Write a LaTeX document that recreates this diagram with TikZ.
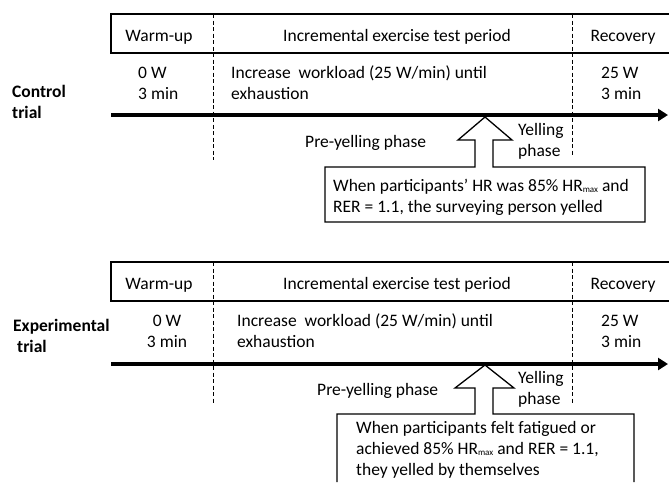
\documentclass[tikz,border=0pt]{standalone}
\usepackage{fontspec}
\setmainfont{Carlito}
\usetikzlibrary{arrows.meta,positioning,calc}

\newcommand{\hrmax}{HR\raisebox{-1pt}{\fontsize{9}{9}\selectfont max}}

\begin{document}
\begin{tikzpicture}[x=1pt,y=-1pt]

\tikzstyle{lbl} = [inner sep=0pt, font=\fontsize{17.5}{21}\selectfont, align=left, anchor=base west]
\tikzstyle{head} = [inner sep=0pt, font=\fontsize{17.5}{21}\selectfont, anchor=base]
\tikzstyle{trial} = [lbl, font=\fontsize{17.5}{21}\selectfont\bfseries]
\tikzstyle{frame} = [line width=1.3pt, line join=miter]
\tikzstyle{sep} = [line width=1pt, dash pattern=on 4pt off 2.5pt]
\tikzstyle{timeline} = [line width=3.5pt, -{Triangle[length=10pt,width=12pt]}]

\useasboundingbox (0,0) rectangle (669,482);

%% -------------------
%% -- CONTROL TRIAL --
%% -------------------

% header row
\draw [frame] (669,14) -- (111,14) -- (111,53) -- (669,53);
\node (ctrl_warm) [head] at (159,41) {Warm-up};
\node (ctrl_incr) [head] at (397,41) {Incremental exercise test period};
\node (ctrl_rec)  [head] at (623,41) {Recovery};

% phase borders
\draw [sep] (213,14) -- (213,160);
\draw [sep] (572,14) -- (572,155);

% (multi-line labels sit on the baseline of their last line)
\node (ctrl_name) [trial] at (12,118) {Control\\trial};
\node (ctrl_load0) [lbl] at (138,99) {0 W\\3 min};
\node (ctrl_load) [lbl] at (231,99) {Increase\ \ workload (25 W/min) until\\exhaustion};
\node (ctrl_load25) [lbl] at (601,99) {25 W\\3 min};

% time axis
\coordinate (ctrl_t0) at (111,115);
\coordinate (ctrl_t1) at (668,115);
\draw [timeline] (ctrl_t0) -- (ctrl_t1);

\node (ctrl_pre) [lbl] at (305,147) {Pre-yelling phase};
\node (ctrl_yell) [lbl] at (518,156) {Yelling\\phase};

% block arrow + note box
\draw [frame] (475,167) -- (475,140) -- (458,140) -- (485,117) -- (512,140) -- (493,140)
  -- (493,167) -- (645,167) -- (645,222) -- (325,222) -- (325,167) -- cycle;
\node (ctrl_note) [lbl] at (333,212) {When participants' HR was 85\% \hrmax\ and\\RER = 1.1, the surveying person yelled};

%% ------------------------
%% -- EXPERIMENTAL TRIAL --
%% ------------------------

% header row
\draw [frame] (669,262) -- (111,262) -- (111,301) -- (669,301);
\node (exp_warm) [head] at (159,289) {Warm-up};
\node (exp_incr) [head] at (397,289) {Incremental exercise test period};
\node (exp_rec)  [head] at (623,289) {Recovery};

% phase borders
\draw [sep] (213,262) -- (213,403);
\draw [sep] (572,262) -- (572,403);

\node (exp_name) [trial] at (13,352) {Experimental\\\hspace*{4pt}trial};
\node (exp_load0) [lbl, align=center, anchor=base] at (167,347) {0 W\\3 min};
\node (exp_load) [lbl] at (237,347) {Increase\ \ workload (25 W/min) until\\exhaustion};
\node (exp_load25) [lbl] at (601,347) {25 W\\3 min};

% time axis
\coordinate (exp_t0) at (111,364);
\coordinate (exp_t1) at (668,364);
\draw [timeline] (exp_t0) -- (exp_t1);

\node (exp_pre) [lbl] at (317,395) {Pre-yelling phase};
\node (exp_yell) [lbl] at (518,404) {Yelling\\phase};

% block arrow + note box (runs off the page)
\draw [frame] (337,482) -- (337,414) -- (475,414) -- (475,388) -- (455,388) -- (485,365)
  -- (514,388) -- (493,388) -- (493,414) -- (634,414) -- (634,482);
\node (exp_note) [lbl] at (356,475) {When participants felt fatigued or\\achieved 85\% \hrmax\ and RER = 1.1,\\they yelled by themselves};

\end{tikzpicture}
\end{document}
